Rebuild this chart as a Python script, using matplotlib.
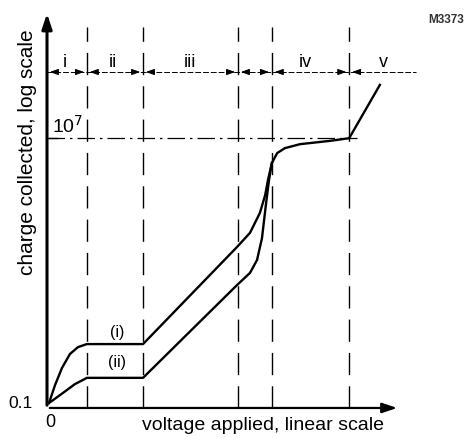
import matplotlib
matplotlib.use("Agg")
import matplotlib.pyplot as plt

plt.rcParams['font.family'] = ['Liberation Sans', 'DejaVu Sans']

# schematic data: voltage (arbitrary linear units), log10(charge)
upper_v = [0.57, 2.27, 4.25, 6.5, 8.8, 11.3, 27.2, 53.8, 57.5, 60.3, 61.8, 62.6, 63.7,
           65.2, 67.4, 71.7, 80.2, 85.6, 94.3]
upper_L = [-1.0, -0.46, 0.06, 0.48, 0.69, 0.78, 0.78, 3.71, 4.14, 4.74, 5.28, 5.74, 6.25,
           6.55, 6.70, 6.82, 6.92, 7.0, 8.61]
lower_v = [0.57, 3.7, 7.9, 11.3, 27.2, 53.8, 57.5, 59.5, 60.9, 62.0, 62.9, 63.7]
lower_L = [-1.0, -0.76, -0.43, -0.24, -0.24, 2.56, 2.93, 3.32, 3.98, 4.98, 5.74, 6.25]

boundaries = [11.3, 27.2, 54.1, 63.7, 85.6]
region_labels = ['i', 'ii', 'iii', 'iv', 'v']
region_label_v = [5.1, 18.7, 40.5, 73.1, 95.2]

PXX = 3.53
PXY = 33.1
fig = plt.figure(figsize=(4.67, 4.37), dpi=100)
ax = fig.add_axes([0, 0, 1, 1])
ax.set_xlim(-47 / PXX, 420 / PXX)
ax.set_ylim(-1 - 34 / PXY, -1 + 403 / PXY)
ax.axis('off')

y0 = -1.15
# axes with arrows
ax.annotate('', xy=(0, 10.85), xytext=(0, y0),
            arrowprops=dict(arrowstyle='-|>,head_length=0.9,head_width=0.3', lw=2.2, color='black'))
ax.annotate('', xy=(100, y0), xytext=(0, y0),
            arrowprops=dict(arrowstyle='-|>,head_length=0.9,head_width=0.3', lw=1.6, color='black'))

# vertical dashed boundaries
for b in boundaries:
    ax.plot([b, b], [y0, 10.36], color='black', lw=1.0, dashes=(16, 8))

# horizontal region arrow line
ax.plot([0, 104.5], [9.0, 9.0], color='black', lw=0.7, dashes=(6, 2))
edges = [0] + boundaries
for i, b in enumerate(edges):
    if i > 0:
        ax.annotate('', xy=(b, 9.0), xytext=(b - 3.2, 9.0),
                    arrowprops=dict(arrowstyle='-|>,head_length=0.5,head_width=0.18', lw=0.8, color='black'))
    ax.annotate('', xy=(b, 9.0), xytext=(b + 3.2, 9.0),
                arrowprops=dict(arrowstyle='-|>,head_length=0.5,head_width=0.18', lw=0.8, color='black'))
for lab, v in zip(region_labels, region_label_v):
    ax.text(v, 9.15, lab, ha='center', va='baseline', fontsize=13)

# 10^7 reference line
ax.plot([0, 87.8], [7.0, 7.0], color='black', lw=0.9, dashes=(14, 4, 2, 4))
ax.plot([0, 2.8], [7.0, 7.0], color='black', lw=1.0)
ax.text(1.5, 7.15, r'10$^7$', ha='left', va='baseline', fontsize=14)

# curves
ax.plot(upper_v, upper_L, color='black', lw=1.7)
ax.plot(lower_v, lower_L, color='black', lw=1.7)
ax.text(19.8, 1.14, '(i)', ha='center', va='center', fontsize=11.5)
ax.text(19.8, 0.21, '(ii)', ha='center', va='center', fontsize=11.5)

# labels
ax.text(-4.0, -1.0, '0.1', ha='right', va='center', fontsize=12.5)
ax.text(0.85, -1.6, '0', ha='center', va='center', fontsize=13)
ax.text(61.05, -1.0 - 23 / PXY, 'voltage applied, linear scale', ha='center', va='center', fontsize=14)
ax.text(-19 / PXX, -1 + (403 - 152) / PXY, 'charge collected, log scale', rotation=90,
        ha='center', va='center', fontsize=15)
ax.text(381 / PXX, -1 + (403 - 20) / PXY, 'M3373', ha='left', va='center', fontsize=8.5,
        fontweight='bold', color='#333333')

fig.savefig('out.png', dpi=100)
